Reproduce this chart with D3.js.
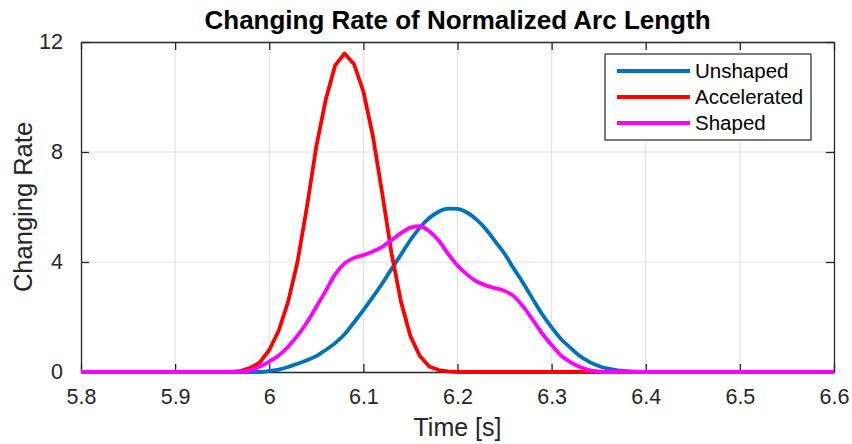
<!DOCTYPE html>
<html>
<head>
<meta charset="utf-8">
<script src="https://cdn.jsdelivr.net/npm/d3@7"></script>
<style>
  body { margin: 0; background: #fff; }
  text { font-family: "Liberation Sans", Arial, Helvetica, sans-serif; fill: #262626; }
</style>
</head>
<body>
<div id="chart"></div>
<script>
const width = 852,
  height = 444,
  margin = { top: 42, bottom: 72, left: 81, right: 18 };

// DATA
const time = [5.80, 5.90, 5.96, 5.97, 5.98, 5.99, 6.00, 6.01, 6.02, 6.03, 6.04, 6.05, 6.06, 6.07, 6.08, 6.09,
  6.10, 6.11, 6.12, 6.13, 6.14, 6.15, 6.16, 6.17, 6.18, 6.19, 6.20, 6.21, 6.22, 6.23, 6.24, 6.25,
  6.26, 6.27, 6.28, 6.29, 6.30, 6.31, 6.32, 6.33, 6.34, 6.35, 6.36, 6.37, 6.38, 6.39, 6.40, 6.50, 6.60];

const unshaped = [0, 0, 0, 0, 0, 0, 0.04, 0.09, 0.18, 0.3, 0.43, 0.58, 0.8, 1.05, 1.37, 1.8,
  2.25, 2.72, 3.22, 3.75, 4.27, 4.8, 5.25, 5.6, 5.83, 5.94, 5.93, 5.8, 5.55, 5.2, 4.75, 4.3,
  3.75, 3.22, 2.65, 2.1, 1.62, 1.2, 0.88, 0.58, 0.37, 0.22, 0.12, 0.06, 0.03, 0.01, 0, 0, 0];

const accelerated = [0, 0, 0, 0.04, 0.15, 0.35, 0.8, 1.5, 2.55, 4.0, 6.0, 8.2, 9.9, 11.15, 11.58, 11.2,
  10.2, 8.6, 6.5, 4.3, 2.55, 1.3, 0.58, 0.2, 0.07, 0.02, 0, 0, 0, 0, 0, 0,
  0, 0, 0, 0, 0, 0, 0, 0, 0, 0, 0, 0, 0, 0, 0, 0, 0];

const shaped = [0, 0, 0, 0, 0.07, 0.2, 0.38, 0.6, 0.92, 1.32, 1.8, 2.37, 2.95, 3.55, 3.95, 4.15,
  4.25, 4.38, 4.55, 4.8, 5.05, 5.25, 5.3, 5.12, 4.78, 4.3, 3.87, 3.55, 3.3, 3.15, 3.05, 2.95,
  2.75, 2.37, 1.9, 1.4, 0.98, 0.6, 0.36, 0.18, 0.07, 0.02, 0, 0, 0, 0, 0, 0, 0];

const seriesNames = ["Unshaped", "Accelerated", "Shaped"];
const seriesColors = ["#0072BD", "#FF0000", "#FF00FF"];
const seriesValues = [unshaped, accelerated, shaped];

const xTicks = [5.8, 5.9, 6, 6.1, 6.2, 6.3, 6.4, 6.5, 6.6];
const yTicks = [0, 4, 8, 12];

const svg = d3.select("#chart")
  .append("svg")
  .attr("width", width)
  .attr("height", height);

// SCALES
const x = d3.scaleLinear()
  .domain([5.8, 6.6])
  .range([margin.left, width - margin.right]);

const y = d3.scaleLinear()
  .domain([0, 12])
  .range([height - margin.bottom, margin.top]);

// GRID
svg.append("g")
  .selectAll("line")
  .data(xTicks.slice(1, -1))
  .join("line")
  .attr("x1", d => x(d)).attr("x2", d => x(d))
  .attr("y1", y(0)).attr("y2", y(12))
  .attr("stroke", "#dfdfdf")
  .attr("stroke-width", 1);

svg.append("g")
  .selectAll("line")
  .data(yTicks.slice(1, -1))
  .join("line")
  .attr("x1", x(5.8)).attr("x2", x(6.6))
  .attr("y1", d => y(d)).attr("y2", d => y(d))
  .attr("stroke", "#dfdfdf")
  .attr("stroke-width", 1);

// AXES (box with inward ticks on all sides)
const tickLen = 8;
const axisStyle = g => {
  g.select(".domain").attr("stroke", "#262626").attr("stroke-width", 1.3);
  g.selectAll(".tick line").attr("stroke", "#262626").attr("stroke-width", 1.3);
  g.selectAll(".tick text").attr("fill", "#262626").style("font-size", "21.5px");
};

svg.append("g")
  .attr("transform", `translate(0,${y(0)})`)
  .call(d3.axisBottom(x).tickValues(xTicks).tickFormat(d => String(d)).tickSizeInner(-tickLen).tickSizeOuter(0).tickPadding(17))
  .call(axisStyle);

svg.append("g")
  .attr("transform", `translate(0,${y(12)})`)
  .call(d3.axisTop(x).tickValues(xTicks).tickFormat("").tickSizeInner(-tickLen).tickSizeOuter(0))
  .call(axisStyle);

svg.append("g")
  .attr("transform", `translate(${x(5.8)},0)`)
  .call(d3.axisLeft(y).tickValues(yTicks).tickFormat(d => String(d)).tickSizeInner(-tickLen).tickSizeOuter(0).tickPadding(18))
  .call(axisStyle);

svg.append("g")
  .attr("transform", `translate(${x(6.6)},0)`)
  .call(d3.axisRight(y).tickValues(yTicks).tickFormat("").tickSizeInner(-tickLen).tickSizeOuter(0))
  .call(axisStyle);

svg.selectAll(".domain").attr("fill", "none");

// LINES
seriesValues.forEach((vals, i) => {
  const line = d3.line()
    .x((d, j) => x(time[j]))
    .y(d => y(d))
    .curve(i === 1 ? d3.curveLinear : d3.curveMonotoneX);
  svg.append("path")
    .datum(vals)
    .attr("d", line)
    .attr("fill", "none")
    .attr("stroke", seriesColors[i])
    .attr("stroke-width", 3.8)
    .attr("stroke-linejoin", "round");
});

// TITLE + LABELS
svg.append("text")
  .attr("x", (x(5.8) + x(6.6)) / 2)
  .attr("y", 29)
  .attr("text-anchor", "middle")
  .style("font-size", "26px")
  .style("font-weight", "bold")
  .style("fill", "#000")
  .text("Changing Rate of Normalized Arc Length");

svg.append("text")
  .attr("x", (x(5.8) + x(6.6)) / 2)
  .attr("y", 436)
  .attr("text-anchor", "middle")
  .style("font-size", "25px")
  .text("Time [s]");

svg.append("text")
  .attr("transform", `translate(32,${(y(0) + y(12)) / 2}) rotate(-90)`)
  .attr("text-anchor", "middle")
  .style("font-size", "25.5px")
  .text("Changing Rate");

// LEGEND
const legend = svg.append("g");

legend.append("rect")
  .attr("x", 605)
  .attr("y", 54)
  .attr("width", 206)
  .attr("height", 86)
  .attr("fill", "#fff")
  .attr("stroke", "#262626")
  .attr("stroke-width", 1.2);

legend.selectAll("line")
  .data(seriesNames)
  .join("line")
  .attr("x1", 617).attr("x2", 690)
  .attr("y1", (d, i) => 71 + i * 26)
  .attr("y2", (d, i) => 71 + i * 26)
  .attr("stroke", (d, i) => seriesColors[i])
  .attr("stroke-width", 3.8);

legend.selectAll("text")
  .data(seriesNames)
  .join("text")
  .attr("x", 695)
  .attr("y", (d, i) => 78 + i * 26)
  .style("font-size", "20.5px")
  .style("fill", "#000")
  .text(d => d);
</script>
</body>
</html>
